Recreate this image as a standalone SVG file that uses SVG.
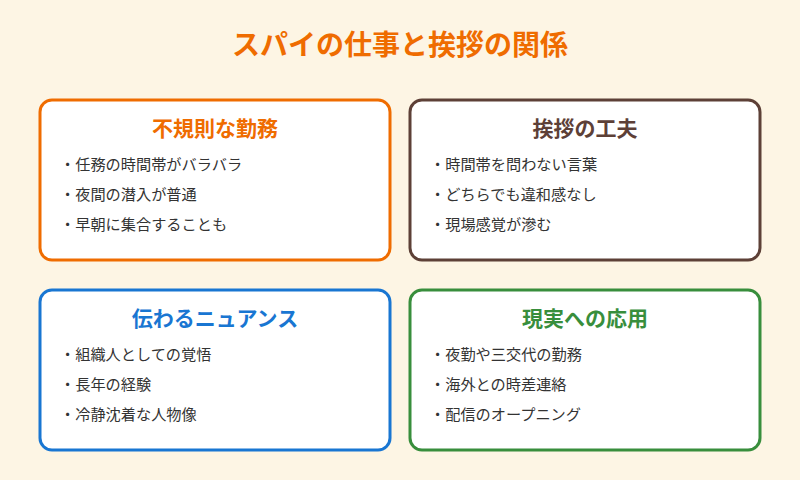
<svg xmlns="http://www.w3.org/2000/svg" width="800" height="480" viewBox="0 0 800 480">
<style>
text{font-family:"Noto Sans CJK JP","Noto Sans",sans-serif}
.box{fill:#fff;stroke-width:3}
.h{font-size:21px;font-weight:bold;text-anchor:middle}
.i{font-size:15.2px;fill:#333}
</style>
<rect width="800" height="480" fill="#fdf5e4"/>
<text x="400" y="55" text-anchor="middle" font-size="28" font-weight="bold" fill="#ef6c00">スパイの仕事と挨拶の関係</text>
<g id="n1"><rect class="box" x="40" y="100" width="350" height="160" rx="12" stroke="#ef6c00"/>
<text class="h" x="215" y="136" fill="#ef6c00">不規則な勤務</text>
<text class="i" x="60" y="170">・任務の時間帯がバラバラ</text>
<text class="i" x="60" y="200">・夜間の潜入が普通</text>
<text class="i" x="60" y="230">・早朝に集合することも</text></g>
<g id="n2"><rect class="box" x="410" y="100" width="350" height="160" rx="12" stroke="#5d4037"/>
<text class="h" x="585" y="136" fill="#5d4037">挨拶の工夫</text>
<text class="i" x="430" y="170">・時間帯を問わない言葉</text>
<text class="i" x="430" y="200">・どちらでも違和感なし</text>
<text class="i" x="430" y="230">・現場感覚が滲む</text></g>
<g id="n3"><rect class="box" x="40" y="290" width="350" height="160" rx="12" stroke="#1976d2"/>
<text class="h" x="215" y="326" fill="#1976d2">伝わるニュアンス</text>
<text class="i" x="60" y="360">・組織人としての覚悟</text>
<text class="i" x="60" y="390">・長年の経験</text>
<text class="i" x="60" y="420">・冷静沈着な人物像</text></g>
<g id="n4"><rect class="box" x="410" y="290" width="350" height="160" rx="12" stroke="#388e3c"/>
<text class="h" x="585" y="326" fill="#388e3c">現実への応用</text>
<text class="i" x="430" y="360">・夜勤や三交代の勤務</text>
<text class="i" x="430" y="390">・海外との時差連絡</text>
<text class="i" x="430" y="420">・配信のオープニング</text></g>
<g id="connectors"></g>
</svg>
